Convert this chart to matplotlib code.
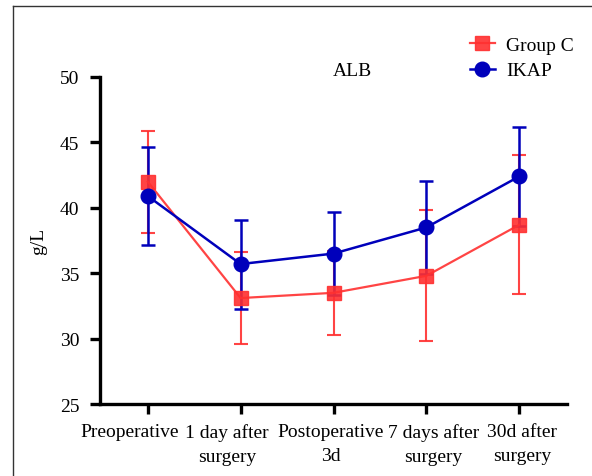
import numpy as np
import matplotlib
matplotlib.use("Agg")
import matplotlib.pyplot as plt
import matplotlib.transforms as mtransforms
from matplotlib.lines import Line2D

# data
labels = ["Preoperative", "1 day after\nsurgery", "Postoperative\n3d",
          "7 days after\nsurgery", "30d after\nsurgery"]
group_c = [42.0, 33.1, 33.5, 34.8, 38.7]
group_c_err = [3.9, 3.5, 3.2, 5.0, 5.3]
ikap = [40.9, 35.7, 36.5, 38.5, 42.4]
ikap_err = [3.75, 3.4, 3.2, 3.55, 3.8]

red = "#ff3030"
blue = "#0000bb"

plt.rcParams["font.family"] = ["Liberation Serif", "DejaVu Serif"]
fs = 14

fig = plt.figure(figsize=(5.92, 4.77), dpi=100)
ax = fig.add_axes([100/592, 1 - 405/477, (567 - 100)/592, (405 - 78)/477])

x = np.arange(len(labels))
ax.errorbar(x, group_c, yerr=group_c_err, color=red, marker="s", ms=10,
            lw=1.6, elinewidth=1.5, capsize=5, capthick=1.5, alpha=0.9,
            label="Group C")
ax.errorbar(x, ikap, yerr=ikap_err, color=blue, marker="o", ms=10.5,
            lw=1.8, elinewidth=1.8, capsize=5, capthick=1.8, label="IKAP")

ax.set_xlim(-0.514, 4.514)
ax.set_ylim(25, 50)
ax.set_yticks([25, 30, 35, 40, 45, 50])
ax.set_xticks(x)
ax.set_xticklabels([])
ax.spines["top"].set_visible(False)
ax.spines["right"].set_visible(False)
ax.spines["left"].set_linewidth(2.4)
ax.spines["bottom"].set_linewidth(2.4)
ax.tick_params(axis="both", width=2.4, length=7, labelsize=fs)
ax.tick_params(axis="y", pad=8)

# category labels, slightly shifted like the original
shifts = [-13, -9.7, -2.2, 5, 2.2]
for xi, lab, dx in zip(x, labels, shifts):
    tr = ax.get_xaxis_transform() + mtransforms.ScaledTranslation(
        dx/72, -13.5/72, fig.dpi_scale_trans)
    ax.text(xi, 0, lab, transform=tr, ha="center", va="top", fontsize=fs,
            linespacing=1.55, multialignment="center")

ax.set_ylabel("g/L", fontsize=fs)
ax.yaxis.set_label_coords((47 - 100)/467, 0.5)

fig.text(352/592, 1 - 72/477, "ALB", fontsize=fs, ha="center", va="center")

handles = [Line2D([], [], color=red, marker="s", ms=10, lw=1.6, alpha=0.9),
           Line2D([], [], color=blue, marker="o", ms=10.5, lw=1.8)]
fig.legend(handles, ["Group C", "IKAP"], loc="upper left",
           bbox_to_anchor=(452/592, 1 - 20/477), frameon=False,
           fontsize=fs, handlelength=1.3, labelspacing=0.4, handletextpad=0.6)

# outer frame lines
fig.add_artist(Line2D([12.5/592, 12.5/592], [0, 1 - 7/477], color="#333333", lw=1.0))
fig.add_artist(Line2D([12.5/592, 1], [1 - 7/477, 1 - 7/477], color="#333333", lw=1.0))

fig.savefig("out.png", dpi=100)
